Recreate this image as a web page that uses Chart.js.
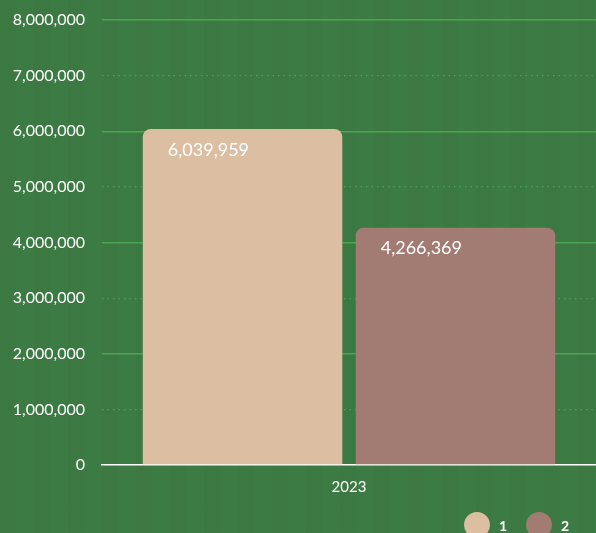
<!DOCTYPE html>
<html>
<head>
<meta charset="utf-8">
<script src="https://cdn.jsdelivr.net/npm/chart.js@4.4.0/dist/chart.umd.min.js"></script>
<style>
  html, body { margin: 0; padding: 0; overflow: hidden; }
  body {
    background-color: #3d7b44;
    background-image: repeating-linear-gradient(90deg, rgba(0,0,0,0.025) 0 16px, rgba(0,0,0,0) 16px 34px);
  }
  #wrap { width: 596px; height: 533px; }
</style>
</head>
<body>
<div id="wrap"><canvas id="myChart"></canvas></div>
<script>
let years = ['2023'];
let seriesNames = ['1', '2'];
let values1 = [6039959];
let values2 = [4266369];
let colors = ['#dcbea2', '#a27b72'];

let fmt = v => Number(v).toLocaleString('en-US');

// value labels in the top-left corner of each bar
let barLabels = {
    id: 'barLabels',
    afterDatasetsDraw(chart) {
        let ctx = chart.ctx;
        ctx.save();
        ctx.font = '18px Lato';
        ctx.fillStyle = '#ffffff';
        ctx.textAlign = 'left';
        ctx.textBaseline = 'middle';
        chart.data.datasets.forEach((ds, i) => {
            chart.getDatasetMeta(i).data.forEach((bar, j) => {
                ctx.fillText(fmt(ds.data[j]), bar.x - bar.width / 2 + 25, bar.y + 21);
            });
        });
        ctx.restore();
    }
};

// round legend markers bottom right
let dotLegend = {
    id: 'dotLegend',
    afterDraw(chart) {
        let ctx = chart.ctx;
        ctx.save();
        chart.data.datasets.forEach((ds, i) => {
            let cx = 477 + i * 62;
            let cy = 525;
            ctx.beginPath();
            ctx.arc(cx, cy, 13, 0, Math.PI * 2);
            ctx.fillStyle = ds.backgroundColor;
            ctx.fill();
            ctx.font = 'bold 14px Lato';
            ctx.fillStyle = '#ffffff';
            ctx.textAlign = 'left';
            ctx.textBaseline = 'middle';
            ctx.fillText(ds.label, cx + 22, cy + 1);
        });
        ctx.restore();
    }
};

let myChart = document.getElementById('myChart').getContext('2d');

let chart = new Chart(myChart, {
    type: 'bar',
    data: {
        labels: years,
        datasets: [
            { label: seriesNames[0], data: values1, backgroundColor: colors[0] },
            { label: seriesNames[1], data: values2, backgroundColor: colors[1] }
        ]
    },
    options: {
        responsive: true,
        maintainAspectRatio: false,
        animation: false,
        layout: { padding: { top: 20, bottom: 24, left: 0, right: 0 } },
        datasets: {
            bar: {
                categoryPercentage: 0.862,
                barPercentage: 0.937,
                borderRadius: 8
            }
        },
        scales: {
            x: {
                grid: { display: false, drawTicks: false },
                border: { display: true, color: '#ffffff', width: 1.5 },
                ticks: { color: '#ffffff', font: { family: 'Lato', size: 15 }, padding: 13 }
            },
            y: {
                min: 0,
                max: 8000000,
                afterFit(scale) {
                    scale.width = 102;
                    scale.paddingTop = 0;
                    scale.paddingBottom = 0;
                },
                grid: {
                    drawTicks: false,
                    color: ctx => ctx.tick && ctx.tick.value === 0 ? 'rgba(0,0,0,0)' : '#4aa64f',
                    lineWidth: ctx => ctx.tick && ctx.tick.value % 2000000 === 0 ? 1.5 : 1.2
                },
                border: {
                    display: false,
                    dash: ctx => ctx.tick && ctx.tick.value % 2000000 === 0 ? [] : [1.5, 4]
                },
                ticks: {
                    stepSize: 1000000,
                    padding: 17,
                    color: '#ffffff',
                    font: { family: 'Lato', size: 16 },
                    callback: v => fmt(v)
                }
            }
        },
        plugins: {
            legend: { display: false },
            tooltip: { enabled: false }
        }
    },
    plugins: [barLabels, dotLegend]
});
</script>
</body>
</html>
